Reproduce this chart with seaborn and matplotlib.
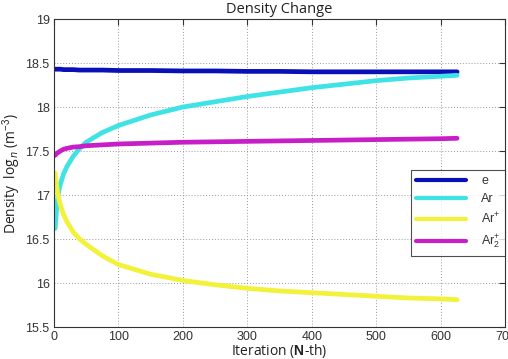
import numpy as np
import pandas as pd
import matplotlib
matplotlib.use("Agg")
import matplotlib.pyplot as plt
import seaborn as sns
from matplotlib.lines import Line2D

iterations = [2, 4, 6, 8, 10, 15, 20, 30, 40, 50, 75, 100, 150, 200, 250, 300,
              350, 400, 450, 500, 550, 600, 625]
e_vals = [18.43, 18.43, 18.43, 18.43, 18.43, 18.425, 18.425, 18.425, 18.42, 18.42,
          18.42, 18.415, 18.415, 18.41, 18.41, 18.405, 18.405, 18.40, 18.40, 18.40,
          18.40, 18.40, 18.40]
ar_vals = [16.62, 16.82, 16.97, 17.06, 17.12, 17.24, 17.32, 17.44, 17.53, 17.60,
           17.71, 17.79, 17.91, 18.00, 18.06, 18.12, 18.17, 18.22, 18.26, 18.30,
           18.33, 18.35, 18.36]
arp_vals = [17.25, 17.12, 17.02, 16.95, 16.89, 16.78, 16.70, 16.58, 16.50, 16.44,
            16.31, 16.21, 16.10, 16.03, 15.98, 15.94, 15.91, 15.89, 15.87, 15.85,
            15.83, 15.82, 15.81]
ar2p_vals = [17.45, 17.47, 17.48, 17.49, 17.50, 17.52, 17.53, 17.545, 17.55, 17.56,
             17.57, 17.58, 17.59, 17.60, 17.605, 17.61, 17.615, 17.62, 17.625, 17.63,
             17.635, 17.64, 17.645]
species = ["e", "Ar", "Ar$^{+}$", "Ar$_2^{+}$"]
colors = ["#0a10b8", "#3fe3e6", "#f2f23a", "#c81ec8"]
x_ticks = [0, 100, 200, 300, 400, 500, 600, 700]
y_ticks = [15.5, 16, 16.5, 17, 17.5, 18, 18.5, 19]

rows = []
for name, vals in zip(species, [e_vals, ar_vals, arp_vals, ar2p_vals]):
    for it, v in zip(iterations, vals):
        rows.append({"Iteration": it, "Density": v, "Species": name})
df = pd.DataFrame(rows)

sns.set_style("white")
plt.rcParams["font.family"] = ["Liberation Sans", "DejaVu Sans"]
plt.rcParams["mathtext.fontset"] = "custom"
plt.rcParams["mathtext.rm"] = "Liberation Sans"
plt.rcParams["mathtext.bf"] = "Liberation Sans:bold"

fig = plt.figure(figsize=(5.08, 3.59), dpi=100)
ax = fig.add_axes([0.106, 0.089, 0.889, 0.858])

sns.lineplot(data=df, x="Iteration", y="Density", hue="Species",
             hue_order=species, palette=colors, linewidth=3.4, ax=ax,
             legend=False)

ax.set_xlim(0, 700)
ax.set_ylim(15.5, 19)
ax.set_xticks(x_ticks)
ax.set_yticks(y_ticks)
ax.set_yticklabels([("%g" % t) for t in y_ticks])
ax.tick_params(direction="in", top=True, right=True, length=4, width=0.8,
               labelsize=9, colors="#333333", labelcolor="#333333", pad=3)
ax.grid(True, linestyle=(0, (1, 2)), color="#999999", linewidth=0.7)
for s in ax.spines.values():
    s.set_color("#333333")
    s.set_linewidth(0.8)
    s.set_visible(True)

ax.set_title("Density Change", fontsize=10.5, family=["Open Sans", "DejaVu Sans"],
             color="#222222", pad=4)
ax.set_xlabel(r"Iteration ($\mathbf{N}$-th)", fontsize=10,
              family=["Open Sans", "DejaVu Sans"], color="#222222", labelpad=-1)
ax.set_ylabel(r"Density  log$_{\,n}$ (m$^{-3}$)", fontsize=10,
              family=["Open Sans", "DejaVu Sans"], color="#222222", labelpad=2)

handles = [Line2D([0], [0], color=c, lw=3.0) for c in colors]
leg = ax.legend(handles, species, loc="upper right", bbox_to_anchor=(1.0, 0.51),
                fontsize=9, frameon=True, fancybox=False, handlelength=4.0,
                borderpad=0.4, labelspacing=0.5, handletextpad=1.2,
                borderaxespad=0)
leg.get_frame().set_edgecolor("#222222")
leg.get_frame().set_linewidth(0.8)
for t in leg.get_texts():
    t.set_color("#333333")

fig.savefig("out.png", dpi=100)
